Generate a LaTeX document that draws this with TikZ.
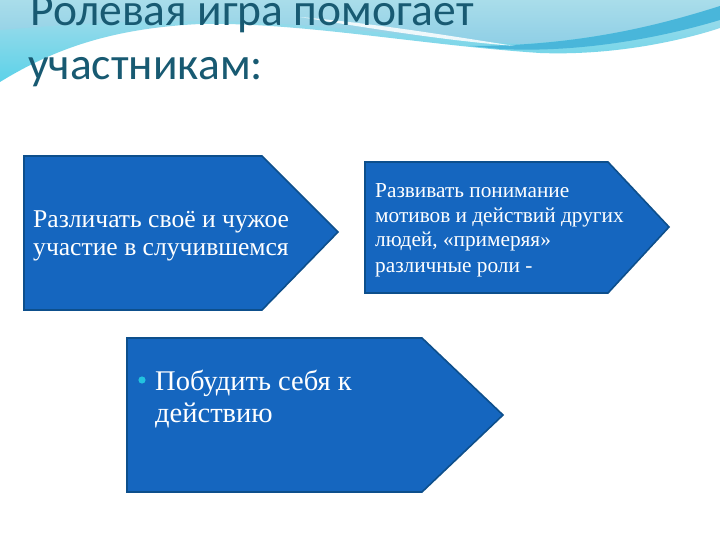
\documentclass[tikz,border=0pt]{standalone}
\usepackage{fontspec}
\setmainfont{Liberation Serif}
\newfontfamily\titlefont{Carlito}
\definecolor{boxfill}{HTML}{1566BF}
\definecolor{boxline}{HTML}{0D4F8C}
\definecolor{titlecol}{HTML}{185A72}
\definecolor{wavecyan}{HTML}{5CD2E9}
\definecolor{wavelight}{HTML}{A9DDEA}
\definecolor{wavelight2}{HTML}{8FCFE6}
\definecolor{wavedark}{HTML}{49B6DA}
\definecolor{bulletcol}{HTML}{22C3DF}
\usetikzlibrary{calc}
\tikzset{
  arrowbox/.style={fill=boxfill, draw=boxline, line width=1.6pt, line join=miter},
  boxtext/.style={text=white, inner sep=0pt, align=left, anchor=base west},
  titletext/.style={text=titlecol, inner sep=0pt, anchor=base west, font=\titlefont\fontsize{45.5}{53}\selectfont},
}
\begin{document}
\begin{tikzpicture}[x=1pt,y=-1pt]
\useasboundingbox (0,0) rectangle (720,540);
\fill[white] (0,0) rectangle (720,540);
% wave background
\shade[top color=wavelight, bottom color=wavecyan]
  (0,0) -- (720,0) -- (720,28) .. controls (690,38) and (620,56) .. (540,53)
  .. controls (420,45) and (300,22) .. (200,24)
  .. controls (120,28) and (60,45) .. (0,82) -- cycle;
\shade[top color=wavelight, bottom color=wavelight2]
  (0,0) -- (720,0) -- (720,8) .. controls (680,20) and (600,40) .. (520,44)
  .. controls (420,38) and (350,27) .. (250,22)
  .. controls (150,18) and (60,25) .. (0,30) -- cycle;
\fill[wavedark]
  (470,46) .. controls (580,46) and (660,25) .. (720,6) -- (720,20)
  .. controls (660,38) and (580,53) .. (500,49) -- cycle;
\fill[white, opacity=0.85]
  (300,17) .. controls (380,24) and (450,36) .. (515,46)
  .. controls (450,41) and (380,30) .. cycle;
% title
\node[titletext] (t1) at (30,26) {Ролевая игра помогает};
\node[titletext] (t2) at (28,80) {участникам:};
% arrow boxes
\draw[arrowbox] (24,156) -- (262,156) -- (338,232) -- (262,310) -- (24,310) -- cycle;
\draw[arrowbox] (365,162) -- (608,162) -- (669,227) -- (608,293) -- (365,293) -- cycle;
\draw[arrowbox] (127,338) -- (422,338) -- (503,415) -- (422,492) -- (127,492) -- cycle;
% texts (base anchor = last line's baseline)
\node[boxtext, font=\fontsize{25.6}{28}\selectfont] (a) at (33,255)
  {Различать своё и чужое\\участие в случившемся};
\node[boxtext, font=\fontsize{21.3}{25}\selectfont] (b) at (375,272)
  {Развивать понимание\\мотивов и действий других\\людей, «примеряя»\\различные роли -};
\fill[bulletcol] (142,380) circle (3.6);
\node[boxtext, font=\fontsize{28.5}{32}\selectfont] (c) at (155,422)
  {Побудить себя к\\действию};
\end{tikzpicture}
\end{document}
